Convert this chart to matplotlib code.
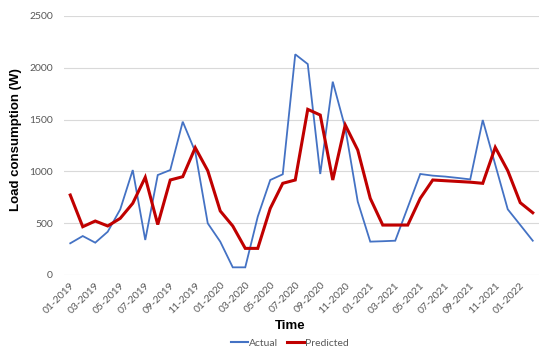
import matplotlib
matplotlib.use("Agg")
import matplotlib.pyplot as plt
from matplotlib.lines import Line2D

months = ["01-2019", "02-2019", "03-2019", "04-2019", "05-2019", "06-2019",
          "07-2019", "08-2019", "09-2019", "10-2019", "11-2019", "12-2019",
          "01-2020", "02-2020", "03-2020", "04-2020", "05-2020", "06-2020",
          "07-2020", "08-2020", "09-2020", "10-2020", "11-2020", "12-2020",
          "01-2021", "02-2021", "03-2021", "04-2021", "05-2021", "06-2021",
          "07-2021", "08-2021", "09-2021", "10-2021", "11-2021", "12-2021",
          "01-2022", "02-2022"]

actual = [306, 376, 312, 418, 634, 1013, 338, 965, 1013, 1480, 1190, 499,
          322, 74, 74, 563, 917, 972, 2130, 2036, 975, 1866, 1420, 708,
          322, 326, 331, 653, 975, 959, 950, 937, 923, 1496, 1065, 634,
          483, 331]

predicted = [772, 466, 521, 473, 547, 692, 943, 487, 917, 949, 1229, 1007,
             618, 473, 257, 257, 643, 885, 917, 1599, 1544, 917, 1448, 1206,
             740, 482, 482, 482, 740, 917, 910, 903, 896, 885, 1232, 1007,
             698, 601]

yticks = [0, 500, 1000, 1500, 2000, 2500]

W, H = 550, 357
fig = plt.figure(figsize=(W / 100, H / 100), dpi=100)
ax = fig.add_axes([64 / W, 1 - 275 / H, 475 / W, (275 - 16) / H])

x = list(range(len(months)))
blue = "#4472C4"
red = "#C00000"
ax.plot(x, actual, color=blue, lw=1.3, solid_joinstyle="miter")
ax.plot(x, predicted, color=red, lw=2.2, solid_joinstyle="miter")

ax.set_xlim(-0.5, len(months) - 0.5)
ax.set_ylim(0, 2500)
ax.set_yticks(yticks)
ax.set_yticklabels([str(v) for v in yticks], fontsize=7.5, color="#595959",
                   family="Lato")
ax.set_xticks(x[::2])
ax.set_xticklabels(months[::2], rotation=45, ha="right", rotation_mode="anchor",
                   fontsize=7.5, color="#595959", family="Lato")
ax.tick_params(axis="both", length=0)
ax.tick_params(axis="y", pad=8)
ax.tick_params(axis="x", pad=4)
ax.grid(axis="y", color="#d9d9d9", lw=0.8)
ax.set_axisbelow(True)
for s in ax.spines.values():
    s.set_visible(False)

fig.text(290 / W, 1 - 326 / H, "Time", ha="center", va="center",
         fontsize=9.5, fontweight="bold", family="Liberation Sans")
fig.text(16 / W, 1 - 140 / H, "Load consumption (W)", ha="center", va="center",
         rotation=90, fontsize=9.5, fontweight="bold", family="Liberation Sans")

handles = [Line2D([], [], color=blue, lw=1.5), Line2D([], [], color=red, lw=2.2)]
leg = fig.legend(handles, ["Actual", "Predicted"], loc="center",
                 bbox_to_anchor=(290 / W, 1 - 343 / H), ncol=2, frameon=False,
                 handlelength=1.6, handletextpad=0.1,
                 columnspacing=0.9, prop={"family": "Lato", "size": 7.5})
for t in leg.get_texts():
    t.set_color("#595959")

fig.savefig("out.png", dpi=100)
